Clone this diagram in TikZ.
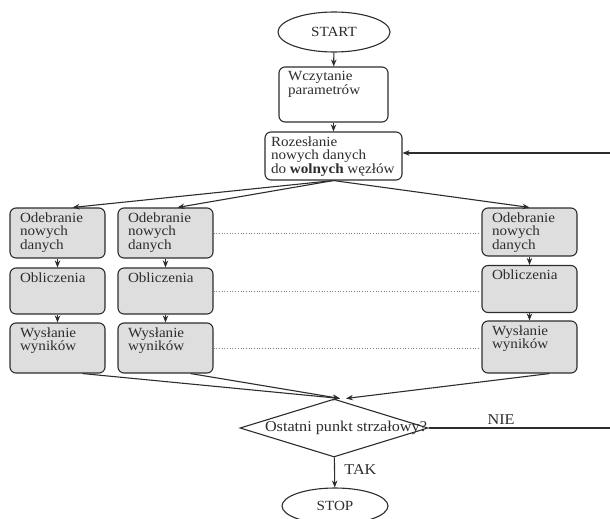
\documentclass[tikz,border=0pt]{standalone}
\usepackage{fontspec}
\setmainfont[FakeStretch=1.08]{Liberation Serif}
\usetikzlibrary{shapes.geometric,arrows.meta}
\definecolor{boxfill}{RGB}{222,222,222}
\definecolor{ink}{RGB}{45,45,45}

\begin{document}
\begin{tikzpicture}[x=1pt,y=-1pt,>={Stealth[length=7pt,width=5.5pt]},color=ink,line width=1.1pt,
	font=\fontsize{14}{13.5}\selectfont,
	blk/.style={draw,rounded corners=6pt,fill=boxfill,minimum width=95pt,minimum height=#1},
	txt/.style={anchor=north west,align=left,inner sep=0pt,xshift=10pt,yshift=-4.5pt},
	term/.style={ellipse,draw,fill=white,minimum width=112pt,minimum height=40pt}]
\useasboundingbox (0,0) rectangle (610,519);
\node [term] (start) at (334,32) {START};
\node [blk=55pt,fill=white,minimum width=109pt,label={[txt,xshift=-1pt]north west:Wczytanie\\parametrów}] (a) at (333.5,94.5) {};
\node [blk=48pt,fill=white,minimum width=137pt,label={[txt,xshift=-4pt]north west:Rozesłanie\\nowych danych\\do \textbf{wolnych} węzłów}] (b) at (333.5,156) {};
% first column
\node [blk=50pt,label={[txt]north west:Odebranie\\nowych\\danych}] (c1) at (57.5,233) {};
\node [blk=46pt,label={[txt]north west:Obliczenia}] (o1) at (57.5,291) {};
\node [blk=50pt,label={[txt]north west:Wysłanie\\wyników}] (w1) at (57.5,348) {};
% second column
\node [blk=50pt,label={[txt]north west:Odebranie\\nowych\\danych}] (c2) at (165.5,233) {};
\node [blk=46pt,label={[txt]north west:Obliczenia}] (o2) at (165.5,291) {};
\node [blk=50pt,label={[txt]north west:Wysłanie\\wyników}] (w2) at (165.5,348) {};
% last column
\node [blk=48pt,label={[txt]north west:Odebranie\\nowych\\danych}] (c3) at (529.5,232) {};
\node [blk=47pt,label={[txt]north west:Obliczenia}] (o3) at (529.5,289) {};
\node [blk=52pt,label={[txt]north west:Wysłanie\\wyników}] (w3) at (529.5,347) {};
\node [diamond,draw,fill=white,minimum width=188pt,minimum height=58pt,label={[xshift=12pt,font=\fontsize{15}{16}\selectfont]center:Ostatni punkt strzałowy?}] (d) at (334,428) {};
\node [term,minimum width=106pt,minimum height=36pt] (stop) at (335,506) {STOP};
\coordinate (back) at (610,153);
\coordinate (nie) at (610,428);

\draw [->] (start) -- (a);
\draw [->] (a) -- (b);
\draw [->] (back) -- (back -| b.east);
\draw [->] (b.south) -- ([xshift=15pt]c1.north);
\draw [->] (b.south) -- ([xshift=12pt]c2.north);
\draw [->] (b.south) -- (c3.north);
\draw [->] (c1) -- (o1);
\draw [->] (o1) -- (w1);
\draw [->] (c2) -- (o2);
\draw [->] (o2) -- (w2);
\draw [->] (c3) -- (o3);
\draw [->] (o3) -- (w3);
\draw [dotted,line width=0.7pt,gray] (c2.east) -- (c2.east -| c3.west);
\draw [dotted,line width=0.7pt,gray] (o2.east) -- (o2.east -| o3.west);
\draw [dotted,line width=0.7pt,gray] (w2.east) -- (w2.east -| w3.west);
\draw [->] ([xshift=25pt]w1.south) -- ([xshift=6pt]d.north);
\draw [->] ([xshift=25pt]w2.south) -- ([xshift=6pt]d.north);
\draw [->] ([xshift=20pt]w3.south) -- ([xshift=12pt]d.north);
\draw (d.east) -- node[pos=0.4,above,inner sep=3pt,font=\fontsize{15}{16}\selectfont] {NIE} (nie);
\draw [->] (d) -- node[right=6pt,pos=0.4,font=\fontsize{15}{16}\selectfont] {TAK} (stop);
\end{tikzpicture}
\end{document}
